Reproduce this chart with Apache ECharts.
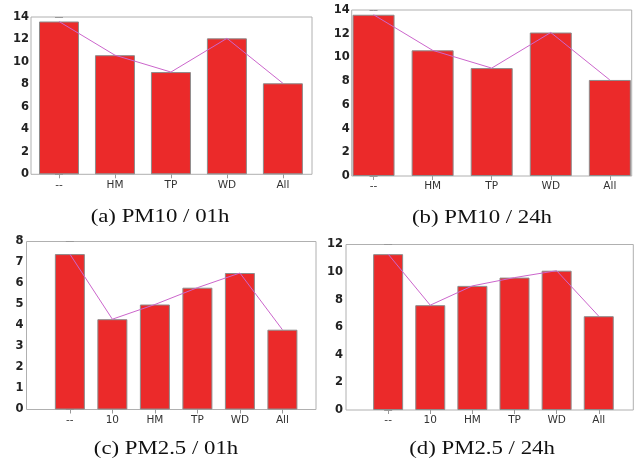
<!DOCTYPE html>
<html>
<head>
<meta charset="utf-8">
<script src="https://cdn.jsdelivr.net/npm/echarts@6/dist/echarts.min.js"></script>
<style>
    html, body { margin: 0; padding: 0; background: #fff; }
    #main { width: 643px; height: 471px; }
</style>
</head>
<body>
<div id="main"></div>
<script>
// data
var catPM10 = ['--', 'HM', 'TP', 'WD', 'All'];
var catPM25 = ['--', '10', 'HM', 'TP', 'WD', 'All'];
var pm10_01h = [13.6, 10.6, 9.1, 12.1, 8.1];
var pm10_24h = [13.6, 10.6, 9.1, 12.1, 8.1];
var pm25_01h = [7.4, 4.3, 5.0, 5.8, 6.5, 3.8];
var pm25_24h = [11.3, 7.6, 9.0, 9.6, 10.1, 6.8];
var captions = ['(a) PM10 / 01h', '(b) PM10 / 24h', '(c) PM2.5 / 01h', '(d) PM2.5 / 24h'];
var yMax = [14, 14, 8, 12];
var yStep = [2, 2, 1, 2];

// panel boxes (px) and x limits in category units
var panels = [
    { cats: catPM10, vals: pm10_01h, left: 31, top: 17, width: 281, height: 157.3, xmin: -0.5, xmax: 4.52, cx: 160, cy: 217.5 },
    { cats: catPM10, vals: pm10_24h, left: 351.7, top: 10, width: 280, height: 166, xmin: -0.37, xmax: 4.37, cx: 482, cy: 218 },
    { cats: catPM25, vals: pm25_01h, left: 26.5, top: 241.5, width: 289.5, height: 168, xmin: -1.02, xmax: 5.79, cx: 166, cy: 449.5 },
    { cats: catPM25, vals: pm25_24h, left: 346, top: 244.5, width: 287.3, height: 165.5, xmin: -1.0, xmax: 5.82, cx: 482, cy: 449.5 }
];

var chart = echarts.init(document.getElementById('main'));

function getOption() {
    var grid = [], xAxis = [], yAxis = [], series = [], graphic = [];
    panels.forEach(function (p, i) {
        var idx = p.cats.map(function (c, j) { return j; });
        var ppu = p.width / (p.xmax - p.xmin);
        grid.push({
            left: p.left, top: p.top, width: p.width, height: p.height,
            show: true, borderColor: '#b0b0b0', borderWidth: 1
        });
        xAxis.push({
            type: 'value', gridIndex: i, min: p.xmin, max: p.xmax,
            axisLine: { show: false },
            splitLine: { show: false },
            axisTick: { show: false },
            axisLabel: {
                customValues: idx,
                formatter: function (v) { return p.cats[Math.round(v)]; },
                fontSize: 10.5,
                fontFamily: 'DejaVu Sans, sans-serif',
                color: '#333',
                margin: 5
            }
        });
        xAxis.push({
            type: 'value', gridIndex: i, min: p.xmin, max: p.xmax, position: 'top',
            axisLine: { show: false },
            splitLine: { show: false },
            axisLabel: { show: false },
            axisTick: { show: true, inside: true, length: 4, customValues: idx, lineStyle: { color: '#999' } }
        });
        yAxis.push({
            type: 'value', gridIndex: i, min: 0, max: yMax[i], interval: yStep[i],
            axisLine: { show: false },
            splitLine: { show: false },
            axisTick: { show: true, inside: true, length: 4, lineStyle: { color: '#999' } },
            axisLabel: {
                fontSize: 11.5,
                fontWeight: 'bold',
                fontFamily: 'DejaVu Sans, sans-serif',
                color: '#222',
                margin: i < 2 ? 2 : 3
            }
        });
        yAxis.push({
            type: 'value', gridIndex: i, min: 0, max: yMax[i], interval: yStep[i], position: 'right',
            axisLine: { show: false },
            splitLine: { show: false },
            axisLabel: { show: false },
            axisTick: { show: true, inside: true, length: 4, lineStyle: { color: '#999' } }
        });
        var pts = p.vals.map(function (v, j) { return [j, v]; });
        series.push({
            type: 'bar',
            xAxisIndex: i * 2,
            yAxisIndex: i * 2,
            data: pts,
            barWidth: Math.round(ppu * 0.71),
            itemStyle: { color: '#eb2a2a', borderColor: '#8c8c8c', borderWidth: 1 },
            silent: true
        });
        series.push({
            type: 'line',
            xAxisIndex: i * 2,
            yAxisIndex: i * 2,
            data: pts,
            symbol: 'none',
            lineStyle: { color: '#cc66cc', width: 1 },
            z: 3,
            silent: true
        });
        graphic.push({
            type: 'text',
            x: p.cx, y: p.cy,
            scaleX: 1.2,
            style: {
                text: captions[i],
                fontSize: 19,
                fontFamily: 'Liberation Serif, serif',
                fill: '#111',
                align: 'center',
                verticalAlign: 'middle',
                textAlign: 'center',
                textVerticalAlign: 'middle'
            }
        });
    });
    return {
        animation: false,
        backgroundColor: '#fff',
        grid: grid,
        xAxis: xAxis,
        yAxis: yAxis,
        series: series,
        graphic: graphic
    };
}

chart.setOption(getOption());
</script>
</body>
</html>
